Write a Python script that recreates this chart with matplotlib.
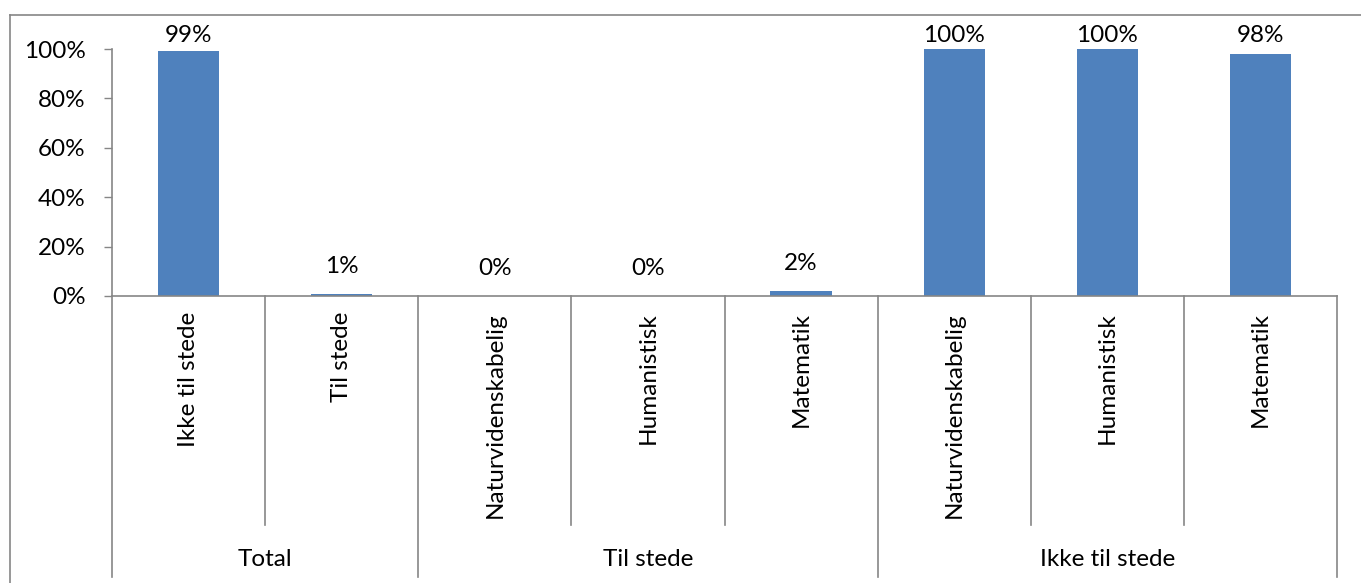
import matplotlib
matplotlib.use("Agg")
import matplotlib.pyplot as plt
import matplotlib.transforms as mtransforms
from matplotlib.lines import Line2D
from matplotlib.ticker import FuncFormatter

groups = ["Total", "Til stede", "Ikke til stede"]
group_sizes = [2, 3, 3]
categories = ["Ikke til stede", "Til stede",
              "Naturvidenskabelig", "Humanistisk", "Matematik",
              "Naturvidenskabelig", "Humanistisk", "Matematik"]
values = [99, 1, 0, 0, 2, 100, 100, 98]

W, H = 1361, 583
bar_color = "#4F81BD"
line_color = "#868686"
plt.rcParams["font.family"] = ["Lato", "DejaVu Sans"]
fs = 17.5

fig = plt.figure(figsize=(W / 100, H / 100), dpi=100)
ax = fig.add_axes([112 / W, 1 - 296 / H, (1337 - 112) / W, (296 - 49) / H])

x = list(range(len(values)))
ax.bar(x, values, width=0.4, color=bar_color, zorder=2)
ax.set_xlim(-0.5, len(values) - 0.5)
ax.set_ylim(0, 100)
ax.set_yticks(range(0, 101, 20))
ax.yaxis.set_major_formatter(FuncFormatter(lambda v, p: f"{v:.0f}%"))
ax.tick_params(axis="y", length=6, width=1, color=line_color, pad=13, labelsize=fs)
ax.set_xticks([])
for side in ["top", "right"]:
    ax.spines[side].set_visible(False)
for side in ["left", "bottom"]:
    ax.spines[side].set_color(line_color)
    ax.spines[side].set_linewidth(1.2)

# value labels above the bars, kept inside the chart area
for xi, v in zip(x, values):
    ax.text(xi, min(v + 11, 105.5), f"{v}%", ha="center", va="center",
            fontsize=fs, clip_on=False)

# two-level category axis below the plot
trans = mtransforms.blended_transform_factory(ax.transData, fig.transFigure)
y0 = 1 - 296 / H
y_inner = 1 - 525 / H
y_outer = 1 - 577 / H
bounds = [-0.5]
for n in group_sizes:
    bounds.append(bounds[-1] + n)
for i in range(len(values) + 1):
    xb = i - 0.5
    yb = y_outer if xb in bounds else y_inner
    fig.add_artist(Line2D([xb, xb], [y0, yb], transform=trans,
                          color=line_color, lw=1.2))

for xi, name in zip(x, categories):
    fig.text(xi, 1 - 312 / H, name, transform=trans, rotation=90,
             ha="center", va="top", fontsize=fs)

for g, name in enumerate(groups):
    mid = (bounds[g] + bounds[g + 1]) / 2
    fig.text(mid, 1 - 559 / H, name, transform=trans,
             ha="center", va="center", fontsize=fs)

# chart frame
fig.add_artist(Line2D([9.5 / W, 9.5 / W], [0, 1 - 14.5 / H],
                      transform=fig.transFigure, color=line_color, lw=1.2))
fig.add_artist(Line2D([9.5 / W, 1], [1 - 14.5 / H, 1 - 14.5 / H],
                      transform=fig.transFigure, color=line_color, lw=1.2))

fig.savefig("out.png", dpi=100)
